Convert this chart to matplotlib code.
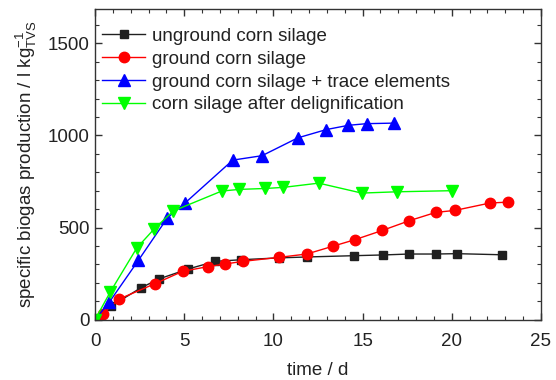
import matplotlib
matplotlib.use("Agg")
import matplotlib.pyplot as plt
from matplotlib.ticker import MultipleLocator

plt.rcParams['font.family'] = ['Liberation Sans', 'DejaVu Sans']
plt.rcParams['mathtext.fontset'] = 'custom'
plt.rcParams['mathtext.rm'] = 'Liberation Sans'
plt.rcParams['mathtext.it'] = 'Liberation Sans'
plt.rcParams['mathtext.default'] = 'regular'

# Data
unground_x = [0, 0.88, 2.56, 3.59, 5.23, 6.73, 8.18, 10.31, 11.87, 14.52, 16.16, 17.6, 19.1, 20.27, 22.8]
unground_y = [0, 72, 172, 221, 275, 316, 325, 335, 340, 347, 351, 356, 356, 358, 352]

ground_x = [0, 0.43, 1.36, 3.36, 4.91, 6.35, 7.29, 8.28, 10.31, 11.87, 13.32, 14.57, 16.1, 17.62, 19.1, 20.18, 22.14, 23.17]
ground_y = [0, 33, 112, 195, 262, 288, 302, 316, 338, 356, 398, 434, 484, 537, 582, 593, 633, 638]

trace_x = [0, 0.8, 2.43, 4.06, 5.03, 7.72, 9.36, 11.37, 12.97, 14.2, 15.23, 16.78]
trace_y = [0, 95, 322, 553, 632, 866, 890, 987, 1032, 1055, 1064, 1067]

delig_x = [0, 0.84, 2.34, 3.33, 4.39, 7.1, 8.09, 9.55, 10.56, 12.54, 14.95, 16.93, 20.0]
delig_y = [0, 148, 389, 494, 590, 698, 707, 712, 718, 741, 687, 694, 700]

labels = ["unground corn silage", "ground corn silage",
          "ground corn silage + trace elements", "corn silage after delignification"]

FS = 13.5

fig = plt.figure(figsize=(5.56, 3.80), dpi=100)
ax = fig.add_axes([0.171, 0.159, 0.802, 0.8165])

ax.plot(unground_x, unground_y, color='#202020', lw=1.0, marker='s', ms=6.2,
        mfc='#202020', mec='#202020', label=labels[0])
ax.plot(ground_x, ground_y, color='#ff0000', lw=1.0, marker='o', ms=7.5,
        mfc='#ff0000', mec='#ff0000', label=labels[1])
ax.plot(trace_x, trace_y, color='#0000ff', lw=1.0, marker='^', ms=8.5,
        mfc='#0000ff', mec='#0000ff', label=labels[2])
ax.plot(delig_x, delig_y, color='#00ff00', lw=1.0, marker='v', ms=8.5,
        mfc='#00ff00', mec='#00ff00', label=labels[3])

ax.set_xlim(0, 25)
ax.set_ylim(0, 1685)
ax.xaxis.set_major_locator(MultipleLocator(5))
ax.xaxis.set_minor_locator(MultipleLocator(1))
ax.yaxis.set_major_locator(MultipleLocator(500))
ax.yaxis.set_minor_locator(MultipleLocator(100))
ax.tick_params(which='both', direction='in', top=True, right=True,
               colors='#333333', labelcolor='#222222', labelsize=FS)
ax.tick_params(which='major', length=5, width=1)
ax.tick_params(which='minor', length=3, width=0.8)
ax.tick_params(axis='x', which='major', pad=10)
ax.tick_params(axis='y', which='major', pad=4)
for s in ax.spines.values():
    s.set_color('#333333')
    s.set_linewidth(1.0)

ax.set_xlabel('time / d', fontsize=FS, color='#222222', labelpad=8)
ax.set_ylabel(r'specific biogas production / l kg$_{TVS}^{-1}$', fontsize=FS,
              color='#222222', labelpad=6)

leg = ax.legend(loc='upper left', frameon=False, fontsize=FS, handlelength=2.3,
                handletextpad=0.37, labelspacing=0.30, borderaxespad=0.0,
                borderpad=0.0, bbox_to_anchor=(0.016, 0.94))
for t in leg.get_texts():
    t.set_color('#222222')

fig.savefig('out.png', dpi=100)
